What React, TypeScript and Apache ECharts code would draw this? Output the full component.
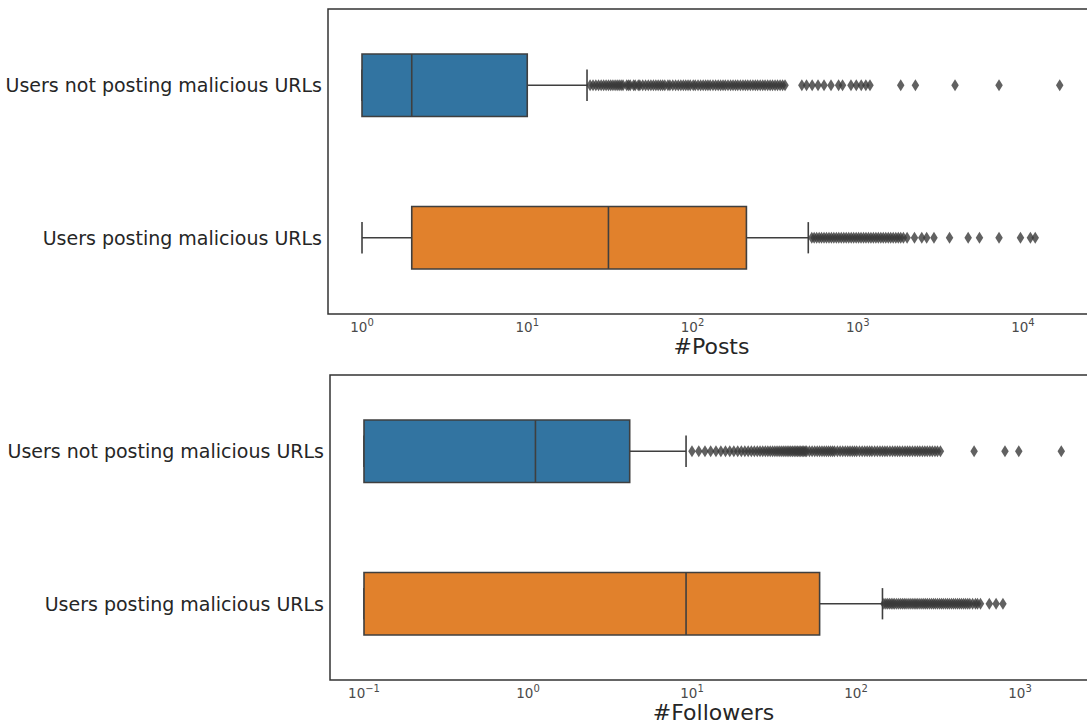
import React, { useEffect, useRef } from "react";
import * as echarts from "echarts";

const categories = ["Users not posting malicious URLs", "Users posting malicious URLs"];
const boxColors = ["#3274A1", "#E1812C"];

// [lower whisker, Q1, median, Q3, upper whisker]
const postsBoxes = [
  [1, 1, 2, 10, 23],
  [1, 2, 31, 212, 502],
];
const followersBoxes = [
  [0.1, 0.1, 1.11, 4.17, 9.2],
  [0.1, 0.1, 9.2, 60, 145],
];

const postsOutliersNotMalicious = [
  24, 25, 26, 27, 28, 29, 30, 31, 32, 33, 34, 35, 36, 37, 38, 40, 41, 42, 44, 45, 47, 48, 50, 52,
  54, 56, 58, 60, 62, 64, 66, 68, 71, 73, 76, 79, 82, 85, 88, 91, 94, 97, 101, 104, 108, 112, 116,
  120, 124, 128, 133, 138, 143, 148, 153, 158, 164, 170, 176, 182, 188, 195, 202, 209, 216, 224,
  232, 240, 248, 257, 266, 275, 285, 295, 305, 316, 327, 339, 351, 363, 459, 490, 530, 575, 625,
  689, 766, 809, 910, 980, 1050, 1120, 1186, 1820, 2233, 3879, 7160, 16680,
];
const postsOutliersMalicious = [
  527, 545, 564, 584, 604, 625, 647, 670, 693, 717, 742, 768, 795, 823, 852, 882, 913, 945, 978,
  1012, 1047, 1084, 1122, 1161, 1202, 1244, 1288, 1333, 1380, 1428, 1478, 1530, 1584, 1640, 1700,
  1760, 1820, 1890, 1990, 2205, 2442, 2612, 2893, 3594, 4660, 5455, 7160, 9660, 11090, 11860,
];
const followersOutliersNotMalicious = [
  10, 11, 12, 13, 14, 15, 16, 17, 18, 19, 20, 21, 22, 23, 24, 25, 26, 27, 28, 29, 30, 31, 32, 33,
  34, 35, 36, 37, 38, 39, 40, 41, 42, 43, 44, 45, 46, 47, 48, 49, 50, 52, 54, 56, 58, 60, 62, 64,
  66, 68, 70, 72, 74, 77, 80, 83, 86, 89, 92, 95, 98, 101, 105, 109, 113, 117, 121, 125, 130, 135,
  140, 145, 150, 155, 161, 167, 173, 179, 185, 192, 199, 206, 213, 221, 229, 237, 245, 254, 263,
  272, 282, 292, 303, 314, 327, 525, 810, 983, 1786,
];
const followersOutliersMalicious = [
  148, 152, 156, 160, 164, 168, 172, 177, 182, 187, 192, 197, 202, 208, 214, 220, 226, 232, 238,
  245, 252, 259, 266, 273, 281, 289, 297, 305, 314, 323, 332, 341, 351, 361, 371, 382, 393, 404,
  416, 428, 440, 453, 466, 480, 494, 514, 535, 551, 574, 650, 715, 787,
];

const postsRange = [0.6226, 27280];
const followersRange = [0.06204, 2948];
const axisNames = ["#Posts", "#Followers"];

const FONT = "DejaVu Sans";
const LINE = "#3f3f3f";
const TEXT = "#262626";

function renderBox(params: any, api: any) {
  const cat = api.value(0);
  const lo = api.coord([api.value(1), cat]);
  const q1 = api.coord([api.value(2), cat]);
  const med = api.coord([api.value(3), cat]);
  const q3 = api.coord([api.value(4), cat]);
  const hi = api.coord([api.value(5), cat]);
  const band = api.size([0, 1], [1, cat])[1];
  const h = band * 0.41;
  const y = q1[1];
  const ls = { stroke: LINE, lineWidth: 1.6 };
  return {
    type: "group",
    children: [
      { type: "line", shape: { x1: lo[0], y1: y, x2: q1[0], y2: y }, style: ls },
      { type: "line", shape: { x1: q3[0], y1: y, x2: hi[0], y2: y }, style: ls },
      { type: "line", shape: { x1: lo[0], y1: y - h / 4, x2: lo[0], y2: y + h / 4 }, style: ls },
      { type: "line", shape: { x1: hi[0], y1: y - h / 4, x2: hi[0], y2: y + h / 4 }, style: ls },
      {
        type: "rect",
        shape: { x: q1[0], y: y - h / 2, width: q3[0] - q1[0], height: h },
        style: { fill: boxColors[cat], stroke: LINE, lineWidth: 1.6 },
      },
      { type: "line", shape: { x1: med[0], y1: y - h / 2, x2: med[0], y2: y + h / 2 }, style: ls },
    ],
  };
}

function tickLabel(v: number) {
  const l = Math.log10(v);
  const e = Math.round(l);
  if (Math.abs(l - e) > 1e-6) return "";
  return `{b|10}{s|${e < 0 ? "\u2212" + -e : e}}`;
}

function xAxis(gridIndex: number, range: number[], name: string) {
  return {
    type: "log",
    logBase: 10,
    gridIndex,
    min: range[0],
    max: range[1],
    name,
    nameLocation: "middle",
    nameGap: 21,
    nameTextStyle: { fontSize: 22, color: TEXT, fontFamily: FONT },
    axisLine: { show: false },
    axisTick: { show: false },
    minorTick: { show: false },
    splitLine: { show: false },
    axisLabel: {
      margin: 3,
      showMinLabel: false,
      showMaxLabel: false,
      formatter: tickLabel,
      rich: {
        b: { fontSize: 13.5, fontFamily: FONT, color: "#4a4a4a", lineHeight: 17, verticalAlign: "bottom" },
        s: { fontSize: 10, fontFamily: FONT, color: "#4a4a4a", lineHeight: 11, verticalAlign: "top" },
      },
    },
  };
}

function yAxis(gridIndex: number) {
  return {
    type: "category",
    gridIndex,
    data: categories,
    inverse: true,
    axisLine: { show: false },
    axisTick: { show: false },
    splitLine: { show: false },
    axisLabel: { fontSize: 19, color: TEXT, fontFamily: FONT, margin: 6 },
  };
}

function outliers(a: number[], b: number[]) {
  return [...a.map((v) => [v, 0]), ...b.map((v) => [v, 1])];
}

export default function App() {
  const ref = useRef<HTMLDivElement>(null);
  useEffect(() => {
    if (!ref.current) return;
    const chart = echarts.init(ref.current, null, { renderer: "svg" });
    const gridStyle = { show: true, borderColor: "#333333", borderWidth: 1.5, backgroundColor: "transparent" };
    chart.setOption({
      animation: false,
      backgroundColor: "#ffffff",
      grid: [
        { left: 328, top: 9, width: 767, height: 305, ...gridStyle },
        { left: 330, top: 375, width: 767, height: 305, ...gridStyle },
      ],
      xAxis: [xAxis(0, postsRange, axisNames[0]), xAxis(1, followersRange, axisNames[1])],
      yAxis: [yAxis(0), yAxis(1)],
      series: [
        {
          type: "custom",
          xAxisIndex: 0,
          yAxisIndex: 0,
          data: postsBoxes.map((b, i) => [i, ...b]),
          encode: { x: [1, 2, 3, 4, 5], y: 0 },
          renderItem: renderBox,
        },
        {
          type: "scatter",
          xAxisIndex: 0,
          yAxisIndex: 0,
          symbol: "diamond",
          symbolSize: [7.5, 12],
          itemStyle: { color: "#3a3a3a" },
          data: outliers(postsOutliersNotMalicious, postsOutliersMalicious),
        },
        {
          type: "custom",
          xAxisIndex: 1,
          yAxisIndex: 1,
          data: followersBoxes.map((b, i) => [i, ...b]),
          encode: { x: [1, 2, 3, 4, 5], y: 0 },
          renderItem: renderBox,
        },
        {
          type: "scatter",
          xAxisIndex: 1,
          yAxisIndex: 1,
          symbol: "diamond",
          symbolSize: [7.5, 12],
          itemStyle: { color: "#3a3a3a" },
          data: outliers(followersOutliersNotMalicious, followersOutliersMalicious),
        },
      ],
    });
    return () => chart.dispose();
  }, []);
  return (
    <div
      ref={ref}
      style={{ position: "fixed", left: 0, top: 0, width: 1110, height: 724, background: "#fff" }}
    />
  );
}
